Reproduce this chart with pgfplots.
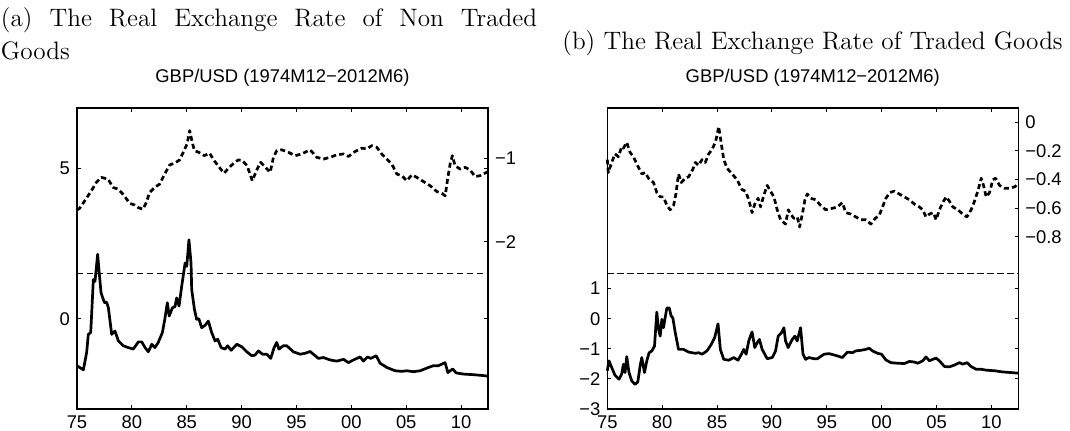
\documentclass[border=0pt]{standalone}
\usepackage{pgfplots}
\pgfplotsset{compat=1.18}
\usepackage{fontspec}
\newfontfamily\lib{Liberation Sans}
\pgfplotsset{
  base/.style={
    scale only axis, width=205.5pt, height=150.5pt, anchor=south west,
    xmin=1975, xmax=2012.45,
    tick align=inside, major tick length=1.8pt,
    axis line style={line width=0.6pt},
    every tick/.style={black, line width=0.5pt},
    tick label style={font=\lib\fontsize{9.2}{10}\selectfont},
    clip=false,
  },
  solidline/.style={black, line width=1.35pt, line join=round},
  dashline/.style={black, line width=1.35pt, line join=round, dash pattern=on 2.5pt off 1.6pt},
  xt/.style={xtick={1975,1980,1985,1990,1995,2000,2005,2010}, xticklabels={75,80,85,90,95,00,05,10}},
  tt/.style={title={GBP/USD (1974M12−2012M6)}, title style={font=\lib\fontsize{9.2}{10}\selectfont, at={(0.5,1)}, anchor=base, yshift=6.5pt, inner sep=0pt}},
}
\begin{document}
\begin{tikzpicture}[x=1pt,y=1pt]
\useasboundingbox (0,0) rectangle (535,-215.5);
\node[anchor=base west,inner sep=0pt,font=\fontsize{12.6}{15}\selectfont] at (0.3,-13.3) {\makebox[268pt][s]{(a) The Real Exchange Rate of Non Traded}};
\node[anchor=base west,inner sep=0pt,font=\fontsize{12.6}{15}\selectfont] at (0.3,-29.6) {Goods};
\node[anchor=base west,inner sep=0pt,font=\fontsize{12.6}{15}\selectfont] at (281,-24.7) {(b) The Real Exchange Rate of Traded Goods};

% ---------- Panel (a) ----------
\begin{axis}[base, xt, tt, at={(38.5pt,-204.5pt)},
  ymin=-3, ymax=7, ytick={0,5}, yticklabels={0,5}]
\addplot[black, line width=0.55pt, dash pattern=on 3.2pt off 1.8pt] coordinates {(1975,1.5) (2012.45,1.5)};
\addplot[solidline] coordinates {
(1975.0,-1.56)(1975.58,-1.70)(1975.88,-1.12)(1976.03,-0.52)(1976.25,-0.46)(1976.49,1.30)(1976.64,1.24)(1976.88,2.14)(1977.0,1.63)(1977.19,0.86)(1977.5,0.53)(1977.7,0.55)(1977.86,0.36)(1978.16,-0.52)(1978.46,-0.41)(1978.77,-0.74)(1979.22,-0.90)(1979.68,-0.96)(1980.13,-1.01)(1980.59,-0.77)(1980.9,-0.77)(1981.2,-0.96)(1981.5,-1.10)(1981.81,-0.85)(1982.1,-0.96)(1982.4,-0.79)(1982.78,-0.46)(1983.0,-0.02)(1983.23,0.53)(1983.4,0.09)(1983.69,0.36)(1983.93,0.40)(1984.08,0.69)(1984.3,0.42)(1984.54,1.08)(1984.85,1.85)(1985.0,1.74)(1985.2,2.62)(1985.39,1.85)(1985.45,0.97)(1985.7,0.31)(1985.9,-0.02)(1986.1,0.0)(1986.36,-0.30)(1986.67,-0.22)(1986.97,-0.08)(1987.27,-0.46)(1987.58,-0.74)(1987.82,-0.68)(1988.13,-0.96)(1988.49,-1.01)(1988.73,-0.90)(1989.04,-1.05)(1989.56,-0.85)(1990.0,-0.93)(1990.47,-1.10)(1990.92,-1.23)(1991.22,-1.21)(1991.53,-1.07)(1991.9,-1.18)(1992.3,-1.18)(1992.65,-1.32)(1992.96,-0.96)(1993.2,-0.79)(1993.4,-1.01)(1993.8,-0.90)(1994.11,-0.90)(1994.72,-1.10)(1995.33,-1.18)(1995.78,-1.15)(1996.24,-1.09)(1996.7,-1.23)(1997.0,-1.32)(1997.45,-1.29)(1998.06,-1.37)(1998.67,-1.41)(1999.28,-1.35)(1999.74,-1.46)(2000.19,-1.37)(2000.8,-1.27)(2001.1,-1.41)(2001.47,-1.27)(2001.77,-1.32)(2002.26,-1.23)(2002.62,-1.48)(2003.23,-1.62)(2003.99,-1.73)(2004.6,-1.75)(2005.05,-1.73)(2005.66,-1.76)(2006.27,-1.73)(2006.88,-1.64)(2007.48,-1.56)(2007.94,-1.56)(2008.24,-1.51)(2008.54,-1.46)(2008.79,-1.79)(2009.0,-1.73)(2009.24,-1.67)(2009.54,-1.80)(2010.21,-1.84)(2011.12,-1.86)(2012.04,-1.89)(2012.45,-1.91)
};
\end{axis}
\begin{axis}[base, at={(38.5pt,-204.5pt)}, axis x line=none, axis y line*=right,
  ymin=-4, ymax=-0.4, ytick={-2,-1}, yticklabels={−2,−1}]
\addplot[dashline] coordinates {
(1975.0,-1.62)(1975.24,-1.60)(1975.7,-1.51)(1976.31,-1.39)(1976.77,-1.29)(1977.22,-1.23)(1977.83,-1.25)(1978.28,-1.35)(1978.74,-1.37)(1979.19,-1.43)(1979.8,-1.54)(1980.25,-1.56)(1980.56,-1.59)(1981.01,-1.61)(1981.32,-1.53)(1981.62,-1.41)(1982.08,-1.35)(1982.53,-1.31)(1982.99,-1.19)(1983.45,-1.08)(1983.9,-1.06)(1984.36,-1.02)(1984.82,-0.89)(1985.03,-0.83)(1985.27,-0.67)(1985.5,-0.81)(1985.7,-0.91)(1986.1,-0.93)(1986.6,-0.97)(1987.08,-0.94)(1987.5,-1.03)(1987.97,-1.11)(1988.4,-1.18)(1988.87,-1.11)(1989.3,-1.06)(1989.7,-1.02)(1990.07,-1.03)(1990.5,-1.09)(1990.97,-1.27)(1991.42,-1.13)(1991.73,-1.05)(1992.18,-1.11)(1992.6,-1.17)(1992.9,-0.99)(1993.2,-0.91)(1993.66,-0.90)(1994.26,-0.93)(1994.87,-0.97)(1995.48,-0.95)(1996.24,-0.90)(1996.85,-0.99)(1997.46,-1.01)(1998.06,-0.99)(1998.67,-0.96)(1999.28,-0.95)(1999.73,-0.98)(2000.34,-0.92)(2000.95,-0.88)(2001.4,-0.89)(2001.86,-0.85)(2002.32,-0.87)(2002.77,-0.95)(2003.23,-1.01)(2003.68,-1.07)(2004.14,-1.19)(2004.6,-1.21)(2005.05,-1.27)(2005.51,-1.20)(2005.96,-1.23)(2006.57,-1.28)(2007.18,-1.33)(2007.79,-1.40)(2008.24,-1.42)(2008.55,-1.45)(2008.79,-1.23)(2009.0,-1.07)(2009.2,-0.97)(2009.45,-1.09)(2009.9,-1.13)(2010.36,-1.11)(2010.81,-1.14)(2011.27,-1.22)(2011.72,-1.21)(2012.33,-1.17)(2012.45,-1.16)
};
\end{axis}

% ---------- Panel (b) ----------
\begin{axis}[base, xt, tt, at={(303.65pt,-204.5pt)},
  ymin=-3, ymax=7, ytick={-3,-2,-1,0,1}, yticklabels={−3,−2,−1,0,1}]
\addplot[black, line width=0.55pt, dash pattern=on 3.2pt off 1.8pt] coordinates {(1975,1.5) (2012.45,1.5)};
\addplot[solidline] coordinates {
(1975.0,-1.73)(1975.15,-1.40)(1975.4,-1.62)(1975.7,-1.88)(1976.07,-2.01)(1976.31,-1.84)(1976.47,-1.51)(1976.62,-1.79)(1976.77,-1.26)(1976.98,-1.79)(1977.23,-2.07)(1977.53,-2.18)(1977.78,-2.10)(1977.99,-1.57)(1978.14,-1.29)(1978.39,-1.79)(1978.6,-1.40)(1978.81,-1.13)(1979.06,-1.07)(1979.3,-0.91)(1979.51,0.22)(1979.67,-0.35)(1979.82,-0.58)(1979.97,-0.02)(1980.12,-0.30)(1980.27,0.03)(1980.43,0.36)(1980.64,0.36)(1980.82,0.09)(1980.97,0.03)(1981.19,-0.46)(1981.49,-1.02)(1981.95,-1.02)(1982.41,-1.11)(1983.02,-1.15)(1983.32,-1.13)(1983.63,-1.18)(1984.08,-1.07)(1984.48,-0.85)(1984.78,-0.63)(1985.09,-0.17)(1985.3,-1.02)(1985.61,-1.35)(1986.06,-1.38)(1986.52,-1.29)(1986.91,-1.38)(1987.22,-1.18)(1987.43,-1.02)(1987.65,-1.18)(1987.89,-0.74)(1988.04,-0.58)(1988.19,-0.44)(1988.44,-0.96)(1988.65,-0.80)(1988.86,-0.69)(1989.11,-1.02)(1989.57,-1.33)(1990.03,-1.29)(1990.33,-1.07)(1990.57,-0.58)(1990.88,-0.46)(1991.09,-0.30)(1991.24,-0.74)(1991.48,-0.96)(1991.85,-0.69)(1992.09,-0.58)(1992.3,-0.74)(1992.61,-0.30)(1992.83,-1.18)(1993.07,-1.35)(1993.37,-1.29)(1993.83,-1.33)(1994.14,-1.33)(1994.75,-1.18)(1995.2,-1.16)(1995.81,-1.22)(1996.42,-1.29)(1996.88,-1.11)(1997.34,-1.13)(1997.64,-1.07)(1998.1,-1.05)(1998.55,-1.02)(1998.86,-0.98)(1999.16,-1.07)(1999.62,-1.15)(1999.99,-1.18)(2000.38,-1.37)(2000.84,-1.46)(2001.45,-1.48)(2002.06,-1.49)(2002.52,-1.42)(2002.97,-1.44)(2003.28,-1.48)(2003.74,-1.40)(2004.04,-1.27)(2004.35,-1.40)(2004.65,-1.35)(2004.96,-1.31)(2005.26,-1.40)(2005.72,-1.59)(2006.17,-1.60)(2006.63,-1.54)(2007.09,-1.46)(2007.39,-1.51)(2007.79,-1.46)(2008.15,-1.59)(2008.61,-1.68)(2009.07,-1.68)(2009.53,-1.71)(2010.29,-1.73)(2011.05,-1.77)(2011.81,-1.79)(2012.45,-1.81)
};
\end{axis}
\begin{axis}[base, at={(303.65pt,-204.5pt)}, axis x line=none, axis y line*=right,
  ymin=-2, ymax=0.1, ytick={-0.8,-0.6,-0.4,-0.2,0}, yticklabels={−0.8,−0.6,−0.4,−0.2,0}]
\addplot[dashline] coordinates {
(1975.0,-0.26)(1975.09,-0.35)(1975.4,-0.28)(1975.7,-0.22)(1976.01,-0.24)(1976.31,-0.17)(1976.47,-0.18)(1976.77,-0.14)(1977.08,-0.21)(1977.38,-0.24)(1977.68,-0.29)(1978.14,-0.36)(1978.45,-0.35)(1978.75,-0.39)(1979.21,-0.42)(1979.51,-0.49)(1979.82,-0.52)(1980.12,-0.52)(1980.43,-0.58)(1980.73,-0.61)(1981.04,-0.58)(1981.25,-0.50)(1981.49,-0.36)(1981.74,-0.42)(1982.1,-0.39)(1982.41,-0.38)(1982.78,-0.33)(1983.02,-0.28)(1983.32,-0.30)(1983.63,-0.26)(1983.93,-0.28)(1984.24,-0.22)(1984.54,-0.19)(1984.84,-0.14)(1985.0,-0.09)(1985.15,-0.03)(1985.39,-0.15)(1985.61,-0.26)(1985.91,-0.32)(1986.37,-0.36)(1986.82,-0.40)(1987.28,-0.47)(1987.59,-0.48)(1987.89,-0.54)(1988.19,-0.63)(1988.44,-0.57)(1988.74,-0.53)(1988.96,-0.59)(1989.26,-0.51)(1989.57,-0.44)(1989.87,-0.48)(1990.18,-0.52)(1990.48,-0.61)(1990.79,-0.68)(1991.24,-0.71)(1991.49,-0.61)(1991.7,-0.64)(1992.0,-0.67)(1992.31,-0.66)(1992.52,-0.73)(1992.77,-0.64)(1993.01,-0.54)(1993.22,-0.50)(1993.53,-0.53)(1993.98,-0.54)(1994.44,-0.58)(1994.9,-0.61)(1995.51,-0.60)(1995.97,-0.59)(1996.42,-0.56)(1996.73,-0.63)(1997.19,-0.64)(1997.64,-0.66)(1998.1,-0.68)(1998.56,-0.68)(1999.01,-0.71)(1999.41,-0.67)(1999.77,-0.65)(2000.08,-0.59)(2000.38,-0.53)(2000.75,-0.49)(2001.15,-0.48)(2001.6,-0.50)(2002.06,-0.52)(2002.52,-0.54)(2002.97,-0.57)(2003.43,-0.59)(2003.74,-0.61)(2004.04,-0.66)(2004.35,-0.64)(2004.71,-0.63)(2004.96,-0.68)(2005.26,-0.61)(2005.57,-0.56)(2005.87,-0.52)(2006.17,-0.55)(2006.48,-0.59)(2006.93,-0.61)(2007.39,-0.64)(2007.76,-0.66)(2008.15,-0.61)(2008.46,-0.55)(2008.76,-0.48)(2009.07,-0.39)(2009.28,-0.44)(2009.52,-0.52)(2009.83,-0.49)(2010.13,-0.40)(2010.38,-0.39)(2010.74,-0.44)(2011.2,-0.46)(2011.66,-0.46)(2012.11,-0.45)(2012.45,-0.43)
};
\end{axis}
\end{tikzpicture}
\end{document}
